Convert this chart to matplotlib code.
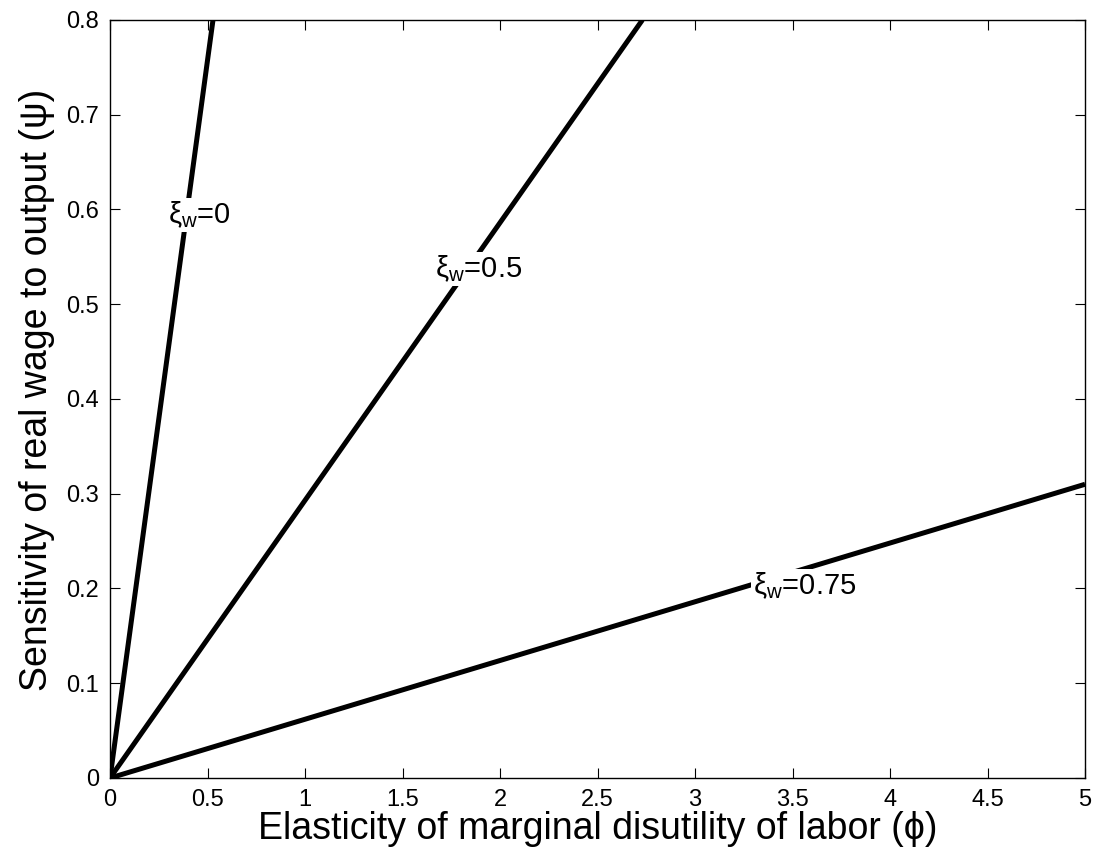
import matplotlib
matplotlib.use('Agg')
import matplotlib.pyplot as plt

# contour levels of xi_w and where each line leaves the box
xi_levels = ['0', '0.5', '0.75']
phi_end = [0.528, 2.73, 5.0]
psi_end = [0.8, 0.8, 0.31]

# contour label positions
label_phi = [0.46, 1.89, 3.56]
label_psi = [0.594, 0.537, 0.203]

xticks = [0, 0.5, 1, 1.5, 2, 2.5, 3, 3.5, 4, 4.5, 5]
yticks = [0, 0.1, 0.2, 0.3, 0.4, 0.5, 0.6, 0.7, 0.8]

plt.rcParams['font.family'] = ['Liberation Sans', 'DejaVu Sans']
plt.rcParams['mathtext.fontset'] = 'custom'
plt.rcParams['mathtext.rm'] = 'Liberation Sans'
plt.rcParams['mathtext.it'] = 'Liberation Sans'
plt.rcParams['mathtext.default'] = 'regular'

fig = plt.figure(figsize=(10.97, 8.61), dpi=100)
ax = fig.add_axes([0.1003, 0.0964, 0.8888, 0.8804])

for i in range(len(xi_levels)):
    ax.plot([0, phi_end[i]], [0, psi_end[i]], color='black', lw=3.6,
            solid_capstyle='butt', zorder=2)
    ax.text(label_phi[i], label_psi[i], r'$\xi_{w}$=' + xi_levels[i],
            fontsize=21, ha='center', va='center', zorder=3,
            bbox=dict(facecolor='white', edgecolor='none', pad=1.0))

ax.set_xlim(0, 5)
ax.set_ylim(0, 0.8)
ax.set_xticks(xticks)
ax.set_xticklabels([('%g' % t) for t in xticks])
ax.set_yticks(yticks)
ax.set_yticklabels([('%g' % t) for t in yticks])
ax.tick_params(direction='in', length=7, width=0.8, top=True, right=True,
               labelsize=17, pad=8)
for s in ax.spines.values():
    s.set_linewidth(1.0)

ax.set_xlabel('Elasticity of marginal disutility of labor (ϕ)', fontsize=27, labelpad=0)
ax.set_ylabel('Sensitivity of real wage to output (ψ)', fontsize=27)
ax.yaxis.set_label_coords(-0.056, 0.512)

fig.savefig('out.png', dpi=100)
